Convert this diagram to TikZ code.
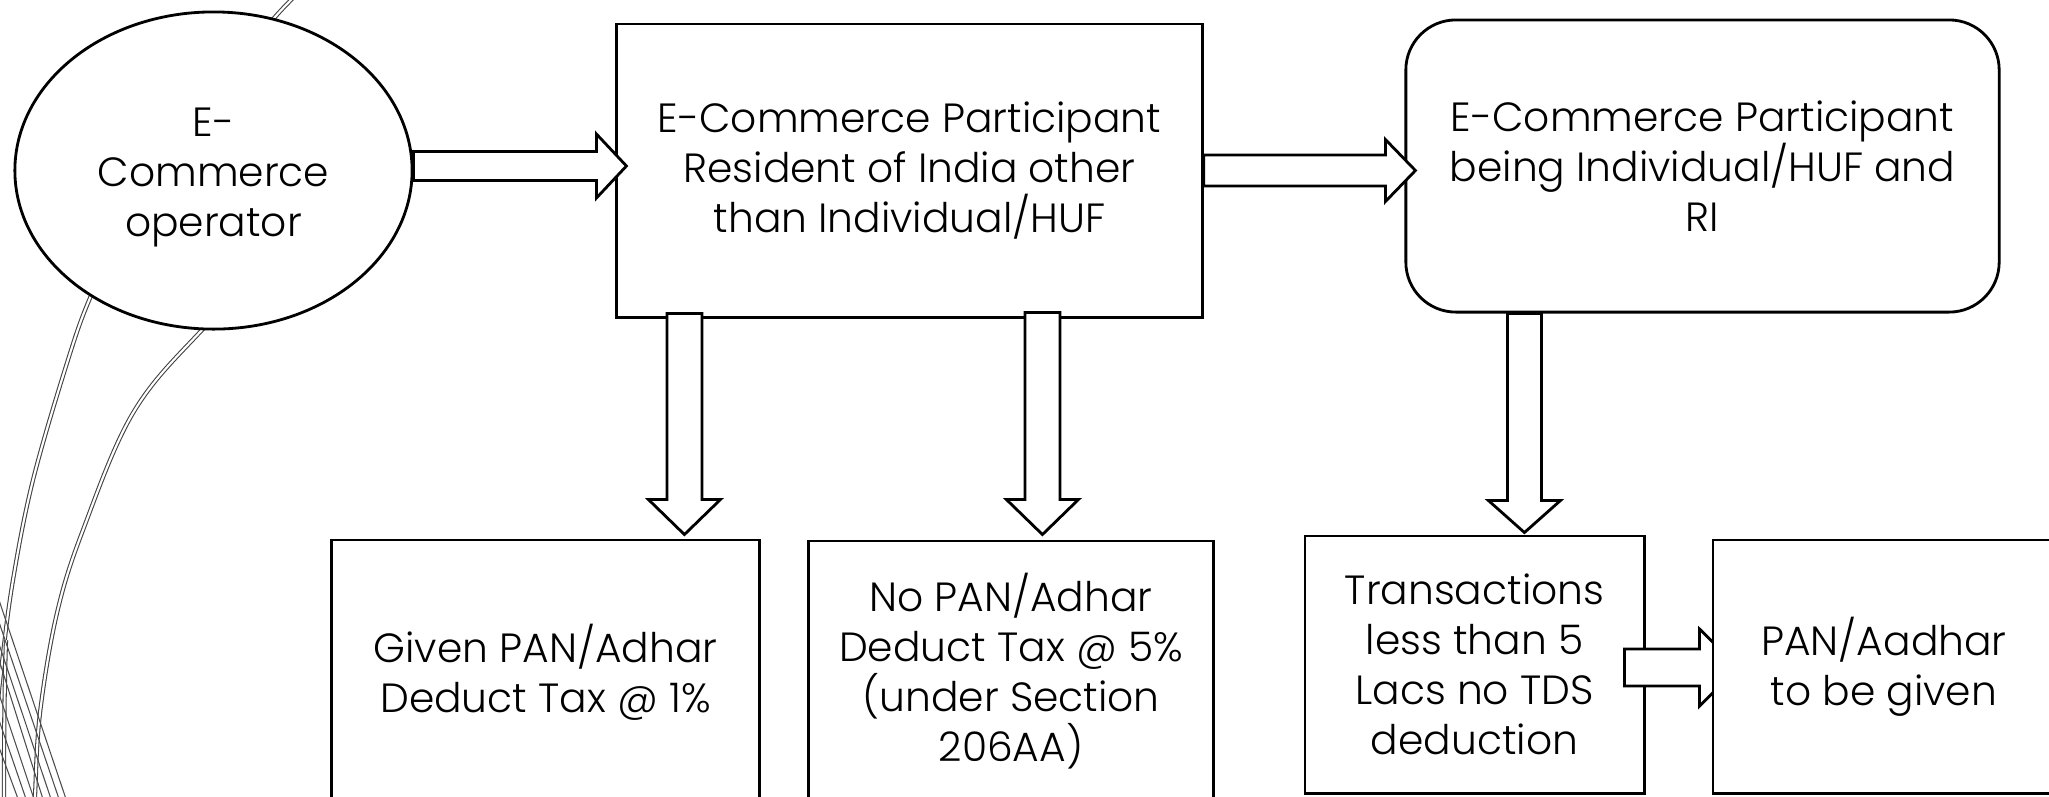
\documentclass[tikz,border=0pt]{standalone}
\usepackage{fontspec}
\setmainfont{Poppins}[UprightFont={* Light}]
\usetikzlibrary{calc,shapes.geometric}
\tikzset{
  txt/.style={align=center, inner sep=0pt, font=\fontsize{11.6pt}{14.2pt}\selectfont},
  shp/.style={txt, draw=black, line width=0.8pt, fill=white},
  blockarrow/.style={draw=black, line width=0.8pt, fill=white, line join=miter},
  wisp/.style={draw=black!75, line width=0.3pt, double=white, double distance=0.6pt},
  thinl/.style={draw=black!70, line width=0.3pt}
}
% horizontal block arrow: tail, tip, shaft half, head half, head length
\newcommand{\harr}[5]{%
  \draw[blockarrow] let \p1=(#1), \p2=(#2) in
    (\x1,\y1+#3) -- (\x2-#5,\y1+#3) -- (\x2-#5,\y1+#4) -- (\x2,\y1)
    -- (\x2-#5,\y1-#4) -- (\x2-#5,\y1-#3) -- (\x1,\y1-#3) -- cycle;}
% vertical (downward) block arrow: tail, tip, shaft half, head half, head length
\newcommand{\varr}[5]{%
  \draw[blockarrow] let \p1=(#1), \p2=(#2) in
    (\x1-#3,\y1) -- (\x1-#3,\y2+#5) -- (\x1-#4,\y2+#5) -- (\x1,\y2)
    -- (\x1+#4,\y2+#5) -- (\x1+#3,\y2+#5) -- (\x1+#3,\y1) -- cycle;}
\begin{document}
\begin{tikzpicture}[x=0.01cm,y=-0.01cm]
\useasboundingbox (0,0) rectangle (2049,796);
\fill[white] (0,0) rectangle (2049,796);
\clip (0,0) rectangle (2049,796);

% decorative wisp lines
\draw[wisp] plot[smooth, tension=0.6] coordinates {(318,-25) (275,17) (190,120) (125,225) (90,298) (67,363) (33,480) (13,580) (2,663) (-6,740)};
\draw[wisp] plot[smooth, tension=0.6] coordinates {(300,235) (202,330) (133,413) (83,530) (57,613) (40,713) (35,796) (34,820)};
\draw[wisp] (6,640) .. controls (4,700) and (4,760) .. (4,810);
\foreach \a/\b in {603/65, 625/58, 647/50, 663/42, 697/33, 723/25, 750/17}
  \draw[thinl] ($(0,\a)!-0.1!(\b,796)$) -- ($(0,\a)!1.1!(\b,796)$);

% nodes
\node[shp, ellipse, minimum width=3.97cm, minimum height=3.17cm] (ell) at (213.5,170.5) {};
\node[txt] (ellt) at ([yshift=-0.07cm]ell.center) {E-\\Commerce\\operator};
\node[shp, rectangle, minimum width=5.85cm, minimum height=2.93cm] (box2) at (909.5,170.5)
  {E-Commerce Participant\\Resident of India other\\than Individual/HUF};
\node[shp, rectangle, rounded corners=0.5cm, minimum width=5.93cm, minimum height=2.92cm] (box3) at (1702.5,166)
  {E-Commerce Participant\\being Individual/HUF and\\RI};
\node[shp, rectangle, minimum width=4.27cm, minimum height=2.64cm] (b1) at (545.5,672)
  {Given PAN/Adhar\\Deduct Tax @ 1\%};
\node[shp, rectangle, minimum width=4.04cm, minimum height=2.60cm] (b2) at (1011,671)
  {No PAN/Adhar\\Deduct Tax @ 5\%\\(under Section\\206AA)};
\node[shp, rectangle, minimum width=3.39cm, minimum height=2.57cm] (b3) at (1474.5,664.5)
  {Transactions\\less than 5\\Lacs no TDS\\deduction};

% connectors (block arrows)
\harr{[yshift=0.045cm]ell.east}{[xshift=0.11cm]box2.west}{0.145cm}{0.32cm}{0.30cm}
\harr{box2.east}{[xshift=0.11cm]box3.west}{0.155cm}{0.31cm}{0.30cm}
\varr{$(box2.south west)+(69,-5)$}{[yshift=0.04cm]b1.north}{0.175cm}{0.36cm}{0.35cm}
\varr{$(box2.south west)+(427,-6)$}{[yshift=0.05cm]b2.north}{0.175cm}{0.36cm}{0.35cm}
\varr{$(box3.south west)+(120,0)$}{[yshift=0.02cm]b3.north}{0.17cm}{0.36cm}{0.32cm}
\coordinate (dtail) at ($(b3.east)+(-21,3)$);
\coordinate (dtip) at ($(b3.east)+(93,3)$);
\harr{dtail}{dtip}{0.185cm}{0.385cm}{0.39cm}

\node[shp, rectangle, minimum width=3.42cm, minimum height=2.53cm] (b4) at (1884,666.5)
  {PAN/Aadhar\\to be given};
\end{tikzpicture}
\end{document}
